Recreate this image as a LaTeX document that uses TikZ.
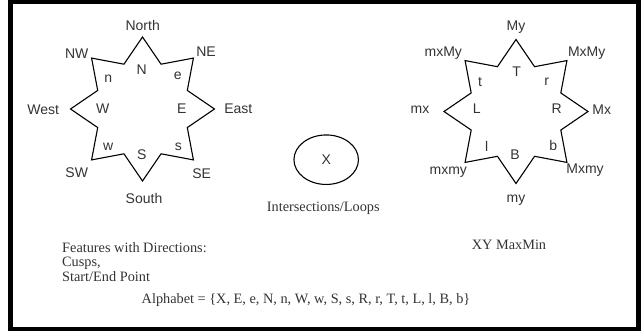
\documentclass[tikz,border=0pt]{standalone}
\usepackage{fontspec}
\setmainfont{Liberation Serif}
\setsansfont{Liberation Sans}
\usetikzlibrary{shapes.geometric}
\definecolor{roseInk}{HTML}{333333}
\definecolor{roseLine}{HTML}{000000}
\tikzset{
  rosefig/.style={x=1pt, y=-1pt},
  outerframe/.style={draw=roseLine, line width=4.5pt},
  starline/.style={draw=roseLine, line width=1.1pt},
  % labels on the tips and inside the stars
  dirlabel/.style={font=\sffamily\fontsize{14}{16}\selectfont, text=roseInk, inner sep=0pt},
  caption/.style={font=\rmfamily\fontsize{14.3}{14.6}\selectfont, text=roseInk, inner sep=0pt, align=left},
  loopnode/.style={
    ellipse, draw=roseLine, line width=1.1pt,
    minimum width=64.5pt, minimum height=49.5pt, inner sep=0pt,
  },
}
% eight-pointed star: outer radius 72, inner radius 48.5
\newcommand{\eightstar}[1]{%
  \draw[starline, shift={(#1)}] plot[samples at={0,...,15}]
    (90+22.5*\x:{60.25+11.75*cos(180*\x)}) -- cycle;
}
\begin{document}
\begin{tikzpicture}[rosefig]
  \useasboundingbox (0,0) rectangle (644,331);
  \draw[outerframe] (10.5,2) rectangle (638.5,329);

  % compass star
  \coordinate (Compass) at (142.5,109);
  \eightstar{Compass}
  \node[dirlabel] (North) at (142.7,25) {North};
  \node[dirlabel] (NorthEast) at (206,51.7) {NE};
  \node[dirlabel] (NorthWest) at (76.7,53.3) {NW};
  \node[dirlabel] (West) at (43.3,110) {West};
  \node[dirlabel] (East) at (238.3,108.3) {East};
  \node[dirlabel] (SouthEast) at (201.7,173.3) {SE};
  \node[dirlabel] (SouthWest) at (76.7,172.7) {SW};
  \node[dirlabel] (South) at (144,198.3) {South};
  \node[dirlabel] (cN) at (141.7,69.3) {N};
  \node[dirlabel] (ce) at (177.7,76) {e};
  \node[dirlabel] (cE) at (181.7,109) {E};
  \node[dirlabel] (cs) at (178.3,146.7) {s};
  \node[dirlabel] (cS) at (141.7,155) {S};
  \node[dirlabel] (cw) at (108.3,146.7) {w};
  \node[dirlabel] (cW) at (102.7,109) {W};
  \node[dirlabel] (cn) at (108.3,78.3) {n};

  % loop
  \node[loopnode, dirlabel] (Loop) at (326.2,159.7) {X};
  \node[caption] (LoopText) at (323.3,208.3) {Intersections/Loops};

  % max/min star
  \coordinate (MaxMin) at (516,111.5);
  \eightstar{MaxMin}
  \node[dirlabel] (My) at (516,26.7) {My};
  \node[dirlabel] (MxMy) at (586.7,53.3) {MxMy};
  \node[dirlabel] (mxMy) at (443.3,53.3) {mxMy};
  \node[dirlabel] (mx) at (420,110) {mx};
  \node[dirlabel] (Mx) at (601.7,110) {Mx};
  \node[dirlabel] (Mxmy) at (585,170) {Mxmy};
  \node[dirlabel] (mxmy) at (448.3,171.7) {mxmy};
  \node[dirlabel] (my) at (516,200) {my};
  \node[dirlabel] (mT) at (516.7,71.7) {T};
  \node[dirlabel] (mr) at (546.7,81.7) {r};
  \node[dirlabel] (mR) at (556.7,108.3) {R};
  \node[dirlabel] (mb) at (553.3,145) {b};
  \node[dirlabel] (mB) at (515,155) {B};
  \node[dirlabel] (ml) at (486.7,146) {l};
  \node[dirlabel] (mL) at (476.7,108.3) {L};
  \node[dirlabel] (mt) at (480,81.7) {t};

  % captions
  \node[caption, anchor=west] (Features) at (62,262) {Features with Directions:\\Cusps,\\Start/End Point};
  \node[caption] (MaxMinText) at (509,245) {XY MaxMin};
  \node[caption] (Alphabet) at (306,300) {Alphabet = \{X, E, e, N, n, W, w, S, s, R, r, T, t, L, l, B, b\}};
\end{tikzpicture}
\end{document}
